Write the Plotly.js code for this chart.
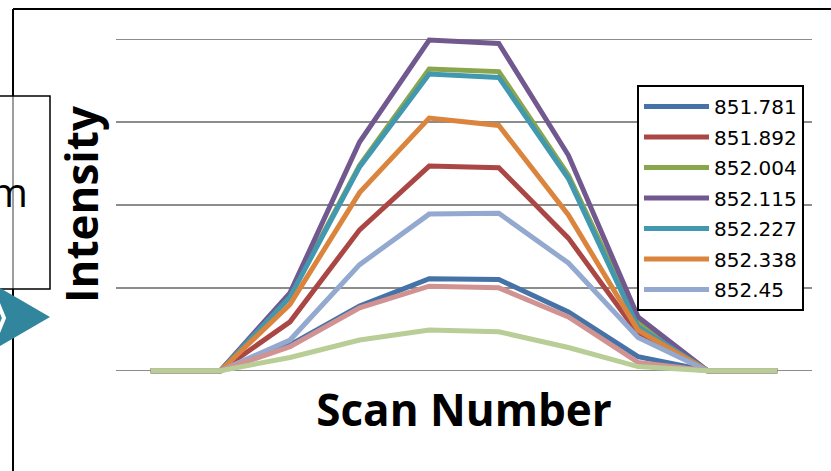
<!DOCTYPE html>
<html>
<head>
<meta charset="utf-8">
<script src="https://cdn.plot.ly/plotly-3.0.1.min.js"></script>
<style>html,body{margin:0;padding:0;background:#fff;}#chart{width:831px;height:471px;}</style>
</head>
<body>
<div id="chart"></div>
<script>
// Scan numbers (no tick labels shown in the reference)
const scans = [1, 2, 3, 4, 5, 6, 7, 8, 9, 10];

// Series names (m/z values)
const seriesNames = ['851.781', '851.892', '852.004', '852.115', '852.227', '852.338', '852.45', '852.561', '852.673'];

// Intensity values (grid units)
const s851_781 = [0, 0, 0.31, 0.78, 1.11, 1.10, 0.71, 0.17, 0, 0];
const s851_892 = [0, 0, 0.59, 1.70, 2.47, 2.45, 1.60, 0.45, 0, 0];
const s852_004 = [0, 0, 0.91, 2.48, 3.64, 3.61, 2.36, 0.59, 0, 0];
const s852_115 = [0, 0, 0.94, 2.76, 3.99, 3.95, 2.60, 0.65, 0, 0];
const s852_227 = [0, 0, 0.89, 2.46, 3.58, 3.54, 2.32, 0.53, 0, 0];
const s852_338 = [0, 0, 0.80, 2.15, 3.05, 2.96, 1.88, 0.49, 0, 0];
const s852_45  = [0, 0, 0.37, 1.28, 1.89, 1.90, 1.30, 0.40, 0, 0];
const s852_561 = [0, 0, 0.29, 0.76, 1.02, 1.00, 0.65, 0.10, 0, 0];
const s852_673 = [0, 0, 0.16, 0.37, 0.49, 0.47, 0.28, 0.05, 0, 0];

const seriesValues = [s851_781, s851_892, s852_004, s852_115, s852_227, s852_338, s852_45, s852_561, s852_673];
const seriesColors = ['#4572A7', '#AA4643', '#89A54E', '#71588F', '#4198AF', '#DB843D', '#93A9CF', '#D19392', '#B9CD96'];
const inLegend = [true, true, true, true, true, true, true, false, false];

const traces = seriesNames.map((name, i) => ({
  type: 'scatter',
  mode: 'lines',
  x: scans,
  y: seriesValues[i],
  name: name,
  legendgroup: 'g' + i,
  showlegend: inLegend[i],
  line: {color: seriesColors[i], width: 5},
  hoverinfo: 'skip'
}));

// pixel -> paper helpers for decorations (plot area: x 116..812, y 31..379)
const L = 116, R = 19, T = 31, B = 92, W = 831, H = 471;
const pw = W - L - R, ph = H - T - B;
const px = X => (X - L) / pw;
const py = Y => (H - B - Y) / ph;

const shapes = [
  // outer frame (top and left edges of the surrounding chart area)
  {type: 'line', xref: 'paper', yref: 'paper', x0: px(13), x1: px(840), y0: py(9), y1: py(9), line: {color: '#000', width: 2}},
  {type: 'line', xref: 'paper', yref: 'paper', x0: px(13), x1: px(13), y0: py(9), y1: py(480), line: {color: '#000', width: 2}},
  // partially visible text box at the left
  {type: 'rect', xref: 'paper', yref: 'paper', x0: px(-10), x1: px(50), y0: py(96), y1: py(289),
   line: {color: '#000', width: 1.5}, fillcolor: 'rgba(255,255,255,0.62)'},
  // teal arrow
  {type: 'path', xref: 'paper', yref: 'paper',
   path: 'M' + px(-12) + ',' + py(281) + ' L' + px(50) + ',' + py(317) + ' L' + px(-12) + ',' + py(353) + ' Z',
   fillcolor: '#31859C', line: {width: 0}},
  {type: 'path', xref: 'paper', yref: 'paper',
   path: 'M' + px(-10) + ',' + py(284) + ' L' + px(4) + ',' + py(318) + ' L' + px(-10) + ',' + py(352),
   line: {color: '#ffffff', width: 4}}
];

const layout = {
  width: W, height: H,
  margin: {l: L, r: R, t: T, b: B, pad: 0},
  paper_bgcolor: '#ffffff',
  plot_bgcolor: '#ffffff',
  hovermode: false,
  showlegend: true,
  xaxis: {
    range: [0.5, 10.5],
    showgrid: false, zeroline: false, showline: false,
    showticklabels: false, ticks: '',
    title: {text: 'Scan Number', standoff: 16, font: {family: 'Open Sans', size: 44, weight: 700, color: '#000'}}
  },
  yaxis: {
    range: [-0.1, 4.1],
    tickvals: [0, 1, 2, 3, 4],
    showgrid: true, gridcolor: '#8C8C8C', gridwidth: 1.5,
    zeroline: false, showline: false, showticklabels: false, ticks: ''
  },
  legend: {
    x: px(637), y: py(85), xanchor: 'left', yanchor: 'top',
    bgcolor: '#ffffff', bordercolor: '#000000', borderwidth: 2,
    font: {family: 'DejaVu Sans', size: 20, color: '#000'},
    itemwidth: 65, tracegroupgap: 1.5, traceorder: 'grouped'
  },
  annotations: [
    {xref: 'paper', yref: 'paper', x: px(81), y: py(204), text: 'Intensity', textangle: -90, showarrow: false,
     xanchor: 'center', yanchor: 'middle', font: {family: 'Open Sans', size: 44, weight: 700, color: '#000'}},
    {xref: 'paper', yref: 'paper', x: px(30), y: py(191), text: 'm', showarrow: false,
     xanchor: 'right', yanchor: 'middle', font: {family: 'Open Sans', size: 41, color: '#000'}}
  ],
  shapes: shapes
};

Plotly.newPlot('chart', traces, layout, {displayModeBar: false, staticPlot: true});
</script>
</body>
</html>
